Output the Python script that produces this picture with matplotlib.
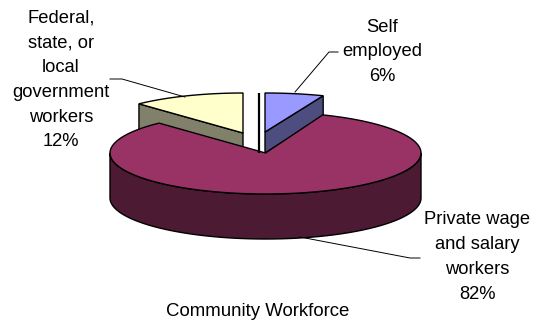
import numpy as np
import matplotlib
matplotlib.use('Agg')
import matplotlib.pyplot as plt
from matplotlib.patches import Polygon

plt.rcParams['font.family'] = ['Liberation Sans', 'DejaVu Sans']

labels = ['Self\nemployed', 'Private wage\nand salary\nworkers',
          'Federal,\nstate, or\nlocal\ngovernment\nworkers']
shares = [6, 82, 12]
top_colors = ['#9999FF', '#993366', '#FFFFCC']
side_colors = ['#4D4D80', '#4D1A33', '#80806B']
title = 'Community Workforce'

# apex x, apex y, x radius, y radius, depth of each slice
geom = [(265, 132, 158, 39, 21),
        (265.5, 153, 155.5, 41, 45),
        (243, 133, 152, 40, 28)]
label_pos = [(382, 52), (477, 257), (61, 80)]


def rim(g, a0, a1, n=120):
    # angles run clockwise from straight up, y axis points down
    t = np.radians(np.linspace(a0, a1, n))
    return g[0] + g[2]*np.sin(t), g[1] - g[3]*np.cos(t)


def draw_slice(ax, g, a0, a1, top, side):
    x, y = rim(g, a0, a1)
    # outer wall, only the part of the rim facing the viewer
    lo, hi = max(a0, 90), min(a1, 270)
    if lo < hi:
        wx, wy = rim(g, lo, hi)
        wall = np.r_[np.c_[wx, wy], np.c_[wx, wy + g[4]][::-1]]
        ax.add_patch(Polygon(wall, fc=side, ec='k', lw=1))
    # cut face seen from the front, right side of a back slice or left side
    cut = None
    if a1 < 90:
        cut = a1
    elif a0 > 270:
        cut = a0
    if cut is not None:
        ex, ey = rim(g, cut, cut, 1)
        face = [(g[0], g[1]), (ex[0], ey[0]), (ex[0], ey[0] + g[4]), (g[0], g[1] + g[4])]
        ax.add_patch(Polygon(face, fc=side, ec='k', lw=1))
    pts = np.r_[[(g[0], g[1])], np.c_[x, y]]
    ax.add_patch(Polygon(pts, fc=top, ec='k', lw=1))


fig = plt.figure(figsize=(5.33, 3.21), dpi=100)
ax = fig.add_axes([0, 0, 1, 1])
ax.set_xlim(0, 533)
ax.set_ylim(321, 0)
ax.axis('off')

edges = np.cumsum([0] + shares) * 3.6
# back slices first so the large one sits in front of them
for i in (2, 0, 1):
    draw_slice(ax, geom[i], edges[i], edges[i+1], top_colors[i], side_colors[i])

ax.plot([258.5, 258.5], [93, 153], color='k', lw=1.6, solid_capstyle='butt')

# leader lines
ax.plot([338, 329, 295], [52, 52, 92], color='k', lw=0.7)
ax.plot([110, 122, 185], [79, 79, 97], color='k', lw=0.7)
ax.plot([420, 410, 300], [258, 258, 237], color='k', lw=0.7)

for i, (tx, ty) in enumerate(label_pos):
    ax.text(tx, ty, f'{labels[i]}\n{shares[i]}%', ha='center', va='center',
            fontsize=13.2, linespacing=1.6, color='k')
ax.text(258, 312, title, ha='center', va='center', fontsize=13.4, color='k')

fig.savefig('out.png', dpi=100)
